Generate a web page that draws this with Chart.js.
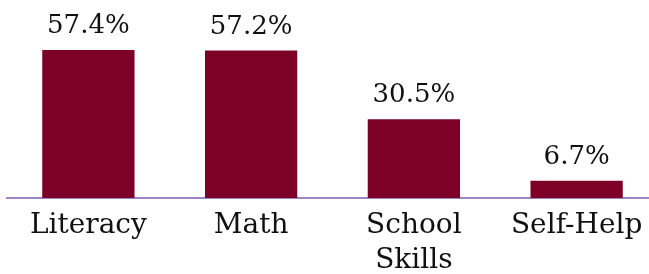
<!DOCTYPE html>
<html>
<head>
<meta charset="utf-8">
<script src="https://cdn.jsdelivr.net/npm/chart.js@4/dist/chart.umd.min.js"></script>
<style>
  html, body { margin: 0; padding: 0; background: #fff; overflow: hidden; }
  #wrap { position: relative; width: 658px; height: 274px; }
</style>
</head>
<body>
<div id="wrap"><canvas id="chart"></canvas></div>
<script>
const categories = ['Literacy', 'Math', ['School', 'Skills'], 'Self-Help'];
const percents = [57.4, 57.2, 30.5, 6.7];

const serif = "'DejaVu Serif', 'Liberation Serif', serif";

// draw the percentage above each bar
const valueLabels = {
  id: 'valueLabels',
  afterDatasetsDraw(chart) {
    const ctx = chart.ctx;
    const meta = chart.getDatasetMeta(0);
    ctx.save();
    ctx.font = '26px ' + serif;
    ctx.fillStyle = '#111';
    ctx.textAlign = 'center';
    ctx.textBaseline = 'alphabetic';
    meta.data.forEach((bar, i) => {
      ctx.fillText(percents[i].toFixed(1) + '%', bar.x, bar.y - 17);
    });
    ctx.restore();
  }
};

new Chart(document.getElementById('chart'), {
  type: 'bar',
  data: {
    labels: categories,
    datasets: [{
      data: percents,
      backgroundColor: '#7d0029',
      categoryPercentage: 1,
      barPercentage: 0.567
    }]
  },
  options: {
    responsive: true,
    maintainAspectRatio: false,
    animation: false,
    layout: { padding: { left: 7, right: 0, top: 0, bottom: 0 } },
    plugins: { legend: { display: false }, tooltip: { enabled: false } },
    scales: {
      y: { display: false, min: 0, max: 76.8 },
      x: {
        grid: { display: false, drawTicks: false },
        border: { display: true, color: '#9d84c4', width: 2 },
        ticks: {
          color: '#111',
          padding: 10,
          maxRotation: 0,
          autoSkip: false,
          font: { family: serif, size: 28, lineHeight: 1.25 }
        },
        afterFit(scale) { scale.height = 76; }
      }
    }
  },
  plugins: [valueLabels]
});
</script>
</body>
</html>
